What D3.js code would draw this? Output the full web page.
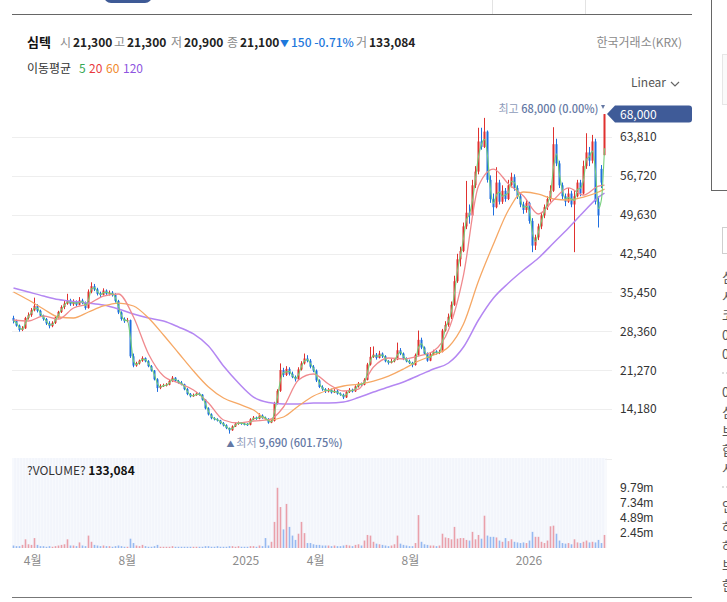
<!DOCTYPE html>
<html>
<head>
<meta charset="utf-8">
<script src="https://cdn.jsdelivr.net/npm/d3@7"></script>
<style>
  body { margin: 0; background: #fff; }
  svg text { font-family: "Noto Sans CJK KR", "Noto Sans", sans-serif; }
  svg .vol-axis text { font-family: "Liberation Sans", Arial, sans-serif; }
</style>
</head>
<body>
<div id="chart"></div>
<script>
// one candle = about 2.6 trading days, Mar 2024 .. Apr 2026
var opens = [
  30800,30300,29400,28600,28900,30800,31300,32200,33000,32100,
  31200,30600,29800,29300,29900,30900,31900,32800,33400,34000,
  33300,33800,33200,34000,33600,32600,35600,36600,36000,35200,
  35000,35800,35200,35400,35000,33900,31800,30600,30200,30400,
  23800,22100,22500,23000,23500,22900,22000,21200,19600,18000,
  18400,18500,18600,19300,19900,19300,19000,18700,17800,16900,
  16500,16700,17000,16800,15900,14300,13200,12500,12300,12100,
  11600,11200,10700,10300,11000,11500,11700,11500,11400,11300,
  12300,12600,12400,13000,12600,12400,11700,12000,15200,17500,
  21300,20400,21500,20600,20000,19600,21400,22500,23400,23000,
  21900,21200,19400,18200,17800,17400,17700,17200,17500,17000,
  16800,16300,17300,17700,17400,18300,18800,18600,19500,22300,
  23700,24100,23500,24300,23800,22900,22600,22900,23200,24900,
  24300,23300,22900,22600,22200,24000,26800,25400,24300,23000,
  24200,24700,24400,24600,28500,29500,31000,33200,37500,41500,
  43000,47500,50000,49500,55000,57500,63000,62000,64800,56000,
  52500,51000,55500,52000,54000,52500,55000,56500,54500,53000,
  51500,50500,51800,48500,44000,45500,47500,49500,51000,52500,
  54000,62500,59000,55000,53000,52000,53500,51500,53000,55500,
  53500,58500,61000,59500,63000,52000,58000,60500
];
var highs = [
  31200,30500,29600,29300,31000,31800,32600,34500,33300,32300,
  31400,30800,30200,30200,31100,32100,33100,33900,35200,34300,
  34200,34000,34600,34300,33800,36000,37300,37000,36300,35600,
  36200,36000,35800,35700,35300,34100,32000,30900,30800,30500,
  24300,22800,23200,23800,23600,23100,22200,21300,19800,18700,
  18800,18900,19500,20200,20000,19500,19300,18800,18000,17100,
  17000,17300,17200,16900,16000,14500,13400,12700,12500,12200,
  11800,11400,10800,11200,11700,11900,11800,11700,11600,12500,
  12900,12800,13400,13200,12800,12500,12200,15500,17800,22500,
  21700,22000,21800,21000,20300,21800,22900,24300,24000,23300,
  22200,21400,19600,18500,18000,18000,17900,17800,17700,17200,
  17000,17500,18000,17900,18500,19100,19000,19800,22600,25500,
  25600,24400,24800,24500,24000,23100,23300,23500,26300,25300,
  24500,23600,23200,22800,24300,28500,27200,25600,24500,24400,
  25000,24900,25000,28800,30200,31600,33800,38500,42500,43800,
  48200,55800,51500,56000,58500,65500,65500,67300,65000,56800,
  53500,58300,56000,55000,54500,56000,57300,57000,55000,53500,
  52000,52500,52000,49000,46000,48000,50000,51500,53000,55000,
  65600,63500,59500,55500,53500,54500,54000,54000,56000,56000,
  59500,64500,62000,64200,63500,53000,58700,68000
];
var lows = [
  29800,29200,28300,28400,28800,30500,31000,32000,31800,31000,
  30300,29500,28900,29100,29700,30700,31700,32400,33200,33000,
  33000,32900,33100,33300,32300,32500,35300,35700,34900,34600,
  34900,35000,34900,34700,33600,31500,30300,29900,30000,23500,
  21800,21900,22300,22800,22700,21800,21000,19400,17300,17800,
  18200,18300,18500,19100,19100,18800,18500,17600,16700,16300,
  16400,16600,16600,15700,14100,13000,12300,12100,11900,11400,
  11000,10500,9690,10200,10900,11300,11300,11200,11100,11200,
  12200,12200,12300,12400,12200,11500,11600,11900,15000,17300,
  20000,20200,20300,19800,19200,19500,21200,22300,22700,21600,
  20900,19100,18000,17500,17100,17200,17000,17100,16800,16600,
  16000,16200,17100,17200,17300,18100,18400,18500,19400,22100,
  23500,23200,23400,23500,22700,22300,22500,22700,23100,24000,
  23100,22700,22400,21800,22100,23900,25100,24100,22800,22900,
  24000,24100,24200,24500,28300,29200,30600,33000,37200,40200,
  42800,47000,48000,49200,54500,57000,61500,61800,55500,51800,
  49500,50800,51500,51600,52000,52300,54600,54000,52500,51000,
  49800,50000,48000,42800,43200,45000,47000,49000,50500,52000,
  53800,58500,54500,52500,51200,51800,51000,42800,52800,53000,
  53300,58000,58500,59000,51500,47300,54500,60500
];
var closes = [
  30300,29400,28600,28900,30800,31300,32200,33000,32100,31200,
  30600,29800,29300,29900,30900,31900,32800,33400,34000,33300,
  33800,33200,34000,33600,32600,35600,36600,36000,35200,35000,
  35800,35200,35400,35000,33900,31800,30600,30200,30400,23800,
  22100,22500,23000,23500,22900,22000,21200,19600,18000,18400,
  18500,18600,19300,19900,19300,19000,18700,17800,16900,16500,
  16700,17000,16800,15900,14300,13200,12500,12300,12100,11600,
  11200,10700,10300,11000,11500,11700,11500,11400,11300,12300,
  12600,12400,13000,12600,12400,11700,12000,15200,17500,21300,
  20400,21500,20600,20000,19600,21400,22500,23400,23000,21900,
  21200,19400,18200,17800,17400,17700,17200,17500,17000,16800,
  16300,17300,17700,17400,18300,18800,18600,19500,22300,23700,
  24100,23500,24300,23800,22900,22600,22900,23200,24900,24300,
  23300,22900,22600,22200,24000,26800,25400,24300,23000,24200,
  24700,24400,24600,28500,29500,31000,33200,37500,41500,43000,
  47500,50000,49500,55000,57500,63000,62000,64800,56000,52500,
  51000,55500,52000,54000,52500,55000,56500,54500,53000,51500,
  50500,51800,48500,44000,45500,47500,49500,51000,52500,54000,
  62500,59000,55000,53000,52000,53500,51500,53000,55500,53500,
  58500,61000,59500,63000,52000,49500,55500,68000
];
// volume in millions of shares
var volumes = [
  0.4,0.3,0.3,0.5,1.4,0.6,0.5,1.6,0.5,0.3,
  0.3,0.2,0.3,0.2,0.3,0.4,0.5,0.6,1.4,0.4,
  0.4,0.3,0.9,0.4,0.3,2.0,1.0,0.5,0.4,0.3,
  0.4,0.3,0.3,0.2,0.3,0.4,0.3,0.2,0.2,1.5,
  0.8,0.4,0.3,0.5,0.3,0.2,0.2,0.3,0.5,0.2,
  0.2,0.2,0.2,0.3,0.2,0.2,0.2,0.2,0.2,0.2,
  0.2,0.2,0.2,0.2,0.3,0.3,0.2,0.2,0.3,0.2,
  0.2,0.2,0.3,0.3,0.2,0.3,0.2,0.2,0.2,0.3,
  0.3,0.2,0.4,0.3,1.6,0.4,1.0,4.2,9.7,6.6,
  3.0,7.1,3.4,2.0,1.3,2.3,4.2,2.4,0.8,0.8,
  0.6,0.5,0.5,0.4,0.4,0.4,0.3,0.4,0.3,0.3,
  0.4,0.5,0.4,0.3,0.5,0.6,0.4,1.2,2.1,2.0,
  1.0,0.7,0.6,0.5,0.4,0.3,0.4,0.6,2.0,0.7,
  0.5,0.4,0.3,0.3,0.8,5.3,1.0,0.6,0.5,0.4,
  0.4,0.3,0.4,2.3,1.7,1.6,1.4,3.4,1.5,1.6,
  1.6,1.3,1.2,2.6,1.4,2.1,1.5,5.2,2.0,1.8,
  1.8,1.7,1.2,1.0,1.6,1.1,1.4,1.0,0.9,0.8,
  0.9,0.8,1.2,2.6,1.8,1.8,1.0,0.8,1.2,3.5,
  3.6,2.3,1.2,0.8,0.7,0.8,0.6,1.4,0.9,0.8,
  1.0,1.2,0.9,1.0,0.9,1.3,0.8,2.1
];

// moving averages, at these candle indexes
var maIndex = [0,5,10,15,20,25,30,35,40,45,50,55,60,65,70,75,80,85,90,95,
  100,105,110,115,120,125,130,135,140,145,150,155,160,165,170,175,180,185,190,195,197];
var ma20 = [30420,30240,31150,30600,32610,33340,34800,35170,30970,24220,
  20200,18930,17650,15280,12180,11630,11990,12180,14550,19470,
  20570,18740,17470,17830,21850,23490,23310,23850,24770,28600,
  38630,54870,57970,55240,53050,49760,52320,54520,53230,54870,55050];
var ma60 = [35530,34070,32430,30970,30790,31880,32980,33520,32980,30790,
  27690,24400,21120,18200,16190,15100,14000,12180,12720,14730,
  16550,17650,18380,18740,19290,20200,21480,22940,24040,25500,
  29690,37540,44290,50490,53780,53410,52500,52320,52860,53780,54320];
var ma120 = [36260,35530,34800,34160,33800,33520,33160,32430,31520,30790,
  30240,29150,27870,25680,22030,18930,16370,15370,15100,15100,
  15280,15280,15460,16280,17280,18200,19110,20300,21480,22580,
  25500,30420,34440,37170,39540,41730,44470,47210,50120,52860,53590];

var priceTicks = [14180, 21270, 28360, 35450, 42540, 49630, 56720, 63810];
var volumeTicks = [2.45, 4.89, 7.34, 9.79];
var monthTicks = [new Date(2024,3,1), new Date(2024,7,1), new Date(2025,0,1),
  new Date(2025,3,1), new Date(2025,7,1), new Date(2026,0,1)];
var monthLabels = ["4월", "8월", "2025", "4월", "8월", "2026"];

var upColor = "#e0312f", downColor = "#1f6fe0";

var svg = d3.select("#chart").append("svg")
    .attr("width", 727)
    .attr("height", 602);

var n = closes.length;
var x = d3.scaleLinear().domain([-0.5, n - 0.5]).range([12, 606]);
var xTime = d3.scaleTime().domain([new Date(2024,2,6), new Date(2026,3,11)]).range([12, 606]);
var y = d3.scaleLinear().domain([5060, 70930]).range([459, 98]);
var yVol = d3.scaleLinear().domain([0, 14.5]).range([548, 458]);

// ---- page chrome ----
svg.append("rect").attr("x", 104).attr("y", -12).attr("width", 48).attr("height", 15)
    .attr("rx", 7).attr("fill", "#3e5a96");
svg.append("line").attr("x1", 12).attr("x2", 692).attr("y1", 14.5).attr("y2", 14.5)
    .attr("stroke", "#666");
[492.5, 585.5].forEach(function(v) {
  svg.append("line").attr("x1", v).attr("x2", v).attr("y1", 0).attr("y2", 14)
      .attr("stroke", "#e3e3e3");
});
svg.append("line").attr("x1", 12).attr("x2", 692).attr("y1", 597.5).attr("y2", 597.5)
    .attr("stroke", "#777");

// right side panel (cut off by the window edge)
svg.append("line").attr("x1", 711.5).attr("x2", 711.5).attr("y1", 0).attr("y2", 190)
    .attr("stroke", "#666");
svg.append("line").attr("x1", 711).attr("x2", 727).attr("y1", 190.5).attr("y2", 190.5)
    .attr("stroke", "#666");
svg.append("rect").attr("x", 722.5).attr("y", 54.5).attr("width", 10).attr("height", 50)
    .attr("fill", "#fafafa").attr("stroke", "#e6e6e6");
svg.append("rect").attr("x", 722.5).attr("y", 227.5).attr("width", 10).attr("height", 26)
    .attr("fill", "none").attr("stroke", "#cfcfcf");
var sideChars = [["심",277],["시",296],["코",315],["0",335],["0",354],["0",392],["심",412],
  ["브",431],["합",450],["시",468],["인",506],["하",527],["하",546],["브",565],["한",585]];
sideChars.forEach(function(c) {
  svg.append("text").attr("x", 722).attr("y", c[1] + 5).attr("font-size", 13)
      .attr("fill", "#555").text(c[0]);
});
[373, 487].forEach(function(v) {
  svg.append("line").attr("x1", 722).attr("x2", 727).attr("y1", v).attr("y2", v)
      .attr("stroke", "#bbb").attr("stroke-dasharray", "2,2");
});

// ---- header ----
var header = [
  [27, "심텍", "#111", 700, 13],
  [60, "시", "#8a8a8a", 400, 12],
  [73, "21,300", "#222", 700, 12],
  [114, "고", "#8a8a8a", 400, 12],
  [127, "21,300", "#222", 700, 12],
  [171, "저", "#8a8a8a", 400, 12],
  [184, "20,900", "#222", 700, 12],
  [227, "종", "#8a8a8a", 400, 12],
  [240, "21,100", "#222", 700, 12],
  [280, "▼", "#1e78dc", 400, 9],
  [291, "150 -0.71%", "#1e78dc", 500, 12],
  [356, "거", "#8a8a8a", 400, 12],
  [369, "133,084", "#222", 700, 12]
];
header.forEach(function(h) {
  svg.append("text").attr("x", h[0]).attr("y", 47).attr("fill", h[2])
      .attr("font-weight", h[3]).attr("font-size", h[4]).text(h[1]);
});
svg.append("text").attr("x", 682).attr("y", 47).attr("text-anchor", "end")
    .attr("font-size", 12).attr("fill", "#8a8a8a").text("한국거래소(KRX)");

var maLegend = [[27, "이동평균", "#333"], [79, "5", "#34a853"], [89, "20", "#e8393d"],
  [106, "60", "#f08a2c"], [123, "120", "#8e55e0"]];
maLegend.forEach(function(m) {
  svg.append("text").attr("x", m[0]).attr("y", 73).attr("font-size", 12)
      .attr("fill", m[2]).text(m[1]);
});

svg.append("text").attr("x", 631).attr("y", 87).attr("font-size", 12)
    .attr("fill", "#555").text("Linear");
svg.append("path").attr("d", "M671,82 L675,86 L679,82").attr("fill", "none")
    .attr("stroke", "#666").attr("stroke-width", 1.2);

// ---- price pane ----
var grid = svg.append("g");
grid.selectAll("line")
    .data(priceTicks)
  .enter().append("line")
    .attr("x1", 12).attr("x2", 612)
    .attr("y1", function(d) { return Math.round(y(d)) + 0.5; })
    .attr("y2", function(d) { return Math.round(y(d)) + 0.5; })
    .attr("stroke", "#eeeeee");
svg.append("line").attr("x1", 12).attr("x2", 612).attr("y1", 459.5).attr("y2", 459.5)
    .attr("stroke", "#eeeeee");

svg.append("g")
    .attr("transform", "translate(614,0)")
    .call(d3.axisRight(y).tickValues(priceTicks).tickFormat(d3.format(",")).tickSize(0).tickPadding(6))
    .call(function(g) { g.select(".domain").remove(); })
    .selectAll("text")
    .attr("font-size", 12).attr("fill", "#333");

// volume pane background
svg.append("rect").attr("x", 12).attr("y", 458).attr("width", 593).attr("height", 90)
    .attr("fill", "#f7f9fd");
svg.append("g").selectAll("line")
    .data(closes)
  .enter().append("line")
    .attr("x1", function(d, i) { return x(i) + 1.5; })
    .attr("x2", function(d, i) { return x(i) + 1.5; })
    .attr("y1", 458).attr("y2", 548)
    .attr("stroke", "#edf1f9").attr("stroke-width", 0.8);

// candles
var candles = svg.append("g").selectAll("g")
    .data(closes)
  .enter().append("g");
candles.append("line")
    .attr("x1", function(d, i) { return x(i); })
    .attr("x2", function(d, i) { return x(i); })
    .attr("y1", function(d, i) { return y(highs[i]); })
    .attr("y2", function(d, i) { return y(lows[i]); })
    .attr("stroke", function(d, i) { return d >= opens[i] ? upColor : downColor; })
    .attr("stroke-width", 1);
candles.append("rect")
    .attr("x", function(d, i) { return x(i) - 1; })
    .attr("width", 2)
    .attr("y", function(d, i) { return y(Math.max(d, opens[i])); })
    .attr("height", function(d, i) { return Math.max(1, Math.abs(y(d) - y(opens[i]))); })
    .attr("fill", function(d, i) { return d >= opens[i] ? upColor : downColor; });

// moving averages
var ma5 = closes.map(function(d, i) { return i == 0 ? d : (d + closes[i - 1]) / 2; });
var lineAll = d3.line()
    .x(function(d, i) { return x(i); })
    .y(function(d) { return y(d); })
    .curve(d3.curveMonotoneX);
var lineMa = d3.line()
    .x(function(d, i) { return x(maIndex[i]); })
    .y(function(d) { return y(d); })
    .curve(d3.curveMonotoneX);

svg.append("path").attr("d", lineMa(ma120)).attr("fill", "none")
    .attr("stroke", "#b487f2").attr("stroke-width", 1.5);
svg.append("path").attr("d", lineMa(ma60)).attr("fill", "none")
    .attr("stroke", "#f6a865").attr("stroke-width", 1.3);
svg.append("path").attr("d", lineMa(ma20)).attr("fill", "none")
    .attr("stroke", "#f08a8e").attr("stroke-width", 1.3);
svg.append("path").attr("d", lineAll(ma5)).attr("fill", "none")
    .attr("stroke", "#72cf78").attr("stroke-width", 1.1);

// high / low notes
var last = n - 1;
var lowIdx = d3.minIndex(lows), highIdx = d3.maxIndex(highs);
var fmt = d3.format(",");
var lastClose = closes[last];

var hiNote = svg.append("text")
    .attr("x", x(highIdx) - 6).attr("y", 113)
    .attr("text-anchor", "end").attr("font-size", 11);
hiNote.append("tspan").attr("fill", "#8e9bba").text("최고 ");
hiNote.append("tspan").attr("fill", "#6478a4").attr("font-weight", 500)
    .text(fmt(highs[highIdx]) + " (" + d3.format(".2f")((lastClose - highs[highIdx]) / highs[highIdx] * 100) + "%)");
svg.append("path")
    .attr("d", "M" + (x(highIdx) - 3.5) + ",105 L" + (x(highIdx) + 0.5) + ",105 L" + (x(highIdx) - 1.5) + ",109 Z")
    .attr("fill", "#6478a4");

var loNote = svg.append("text")
    .attr("x", x(lowIdx) - 3).attr("y", 447).attr("font-size", 11);
loNote.append("tspan").attr("fill", "#6478a4").attr("font-size", 8).text("▲ ");
loNote.append("tspan").attr("fill", "#8e9bba").text("최저 ");
loNote.append("tspan").attr("fill", "#6478a4").attr("font-weight", 500)
    .text(fmt(lows[lowIdx]) + " (" + d3.format(".2f")((lastClose - lows[lowIdx]) / lows[lowIdx] * 100) + "%)");

// current price tag
var ty = y(lastClose);
svg.append("path")
    .attr("d", "M607," + ty + " L615," + (ty - 8.5) + " L689," + (ty - 8.5) +
      " Q692," + (ty - 8.5) + " 692," + (ty - 5.5) + " L692," + (ty + 5.5) +
      " Q692," + (ty + 8.5) + " 689," + (ty + 8.5) + " L615," + (ty + 8.5) + " Z")
    .attr("fill", "#3f5b98");
svg.append("text").attr("x", 620).attr("y", ty + 4.5).attr("font-size", 12)
    .attr("fill", "#fff").text(fmt(lastClose));

// ---- volume ----
svg.append("g").selectAll("rect")
    .data(volumes)
  .enter().append("rect")
    .attr("x", function(d, i) { return x(i) - 0.8; })
    .attr("width", 1.6)
    .attr("y", function(d) { return yVol(d); })
    .attr("height", function(d) { return 548 - yVol(d); })
    .attr("fill", function(d, i) { return closes[i] >= opens[i] ? "#e8919b" : "#85aeee"; })
    .attr("fill-opacity", 0.85);

svg.append("g")
    .attr("class", "vol-axis")
    .attr("transform", "translate(614,0)")
    .call(d3.axisRight(yVol).tickValues(volumeTicks).tickFormat(function(d) { return d + "m"; })
      .tickSize(0).tickPadding(6))
    .call(function(g) { g.select(".domain").remove(); })
    .selectAll("text")
    .attr("font-size", 12).attr("fill", "#333");

var volNote = svg.append("text").attr("x", 27).attr("y", 475).attr("font-size", 12);
volNote.append("tspan").attr("fill", "#333").text("?VOLUME? ");
volNote.append("tspan").attr("fill", "#111").attr("font-weight", 700).text("133,084");

// ---- time axis ----
svg.append("g")
    .attr("transform", "translate(0,552)")
    .call(d3.axisBottom(xTime).tickValues(monthTicks)
      .tickFormat(function(d, i) { return monthLabels[i]; }).tickSize(0).tickPadding(4))
    .call(function(g) { g.select(".domain").remove(); })
    .selectAll("text")
    .attr("font-size", 12).attr("fill", "#8c8c8c");
</script>
</body>
</html>
